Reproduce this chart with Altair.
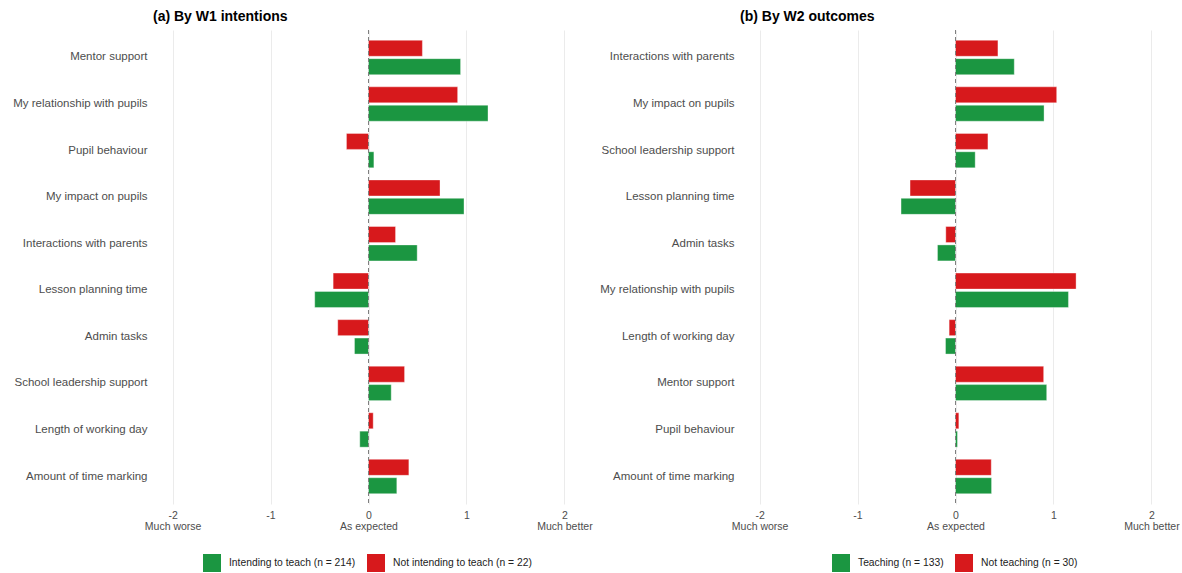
import altair as alt
import pandas as pd

# Panel (a): change relative to expectations, by W1 intentions
left_items = [
    "Mentor support", "My relationship with pupils", "Pupil behaviour",
    "My impact on pupils", "Interactions with parents", "Lesson planning time",
    "Admin tasks", "School leadership support", "Length of working day",
    "Amount of time marking",
]
left_intending = [0.94, 1.22, 0.055, 0.975, 0.497, -0.549, -0.143, 0.232, -0.089, 0.289]
left_not_intending = [0.55, 0.91, -0.225, 0.73, 0.276, -0.361, -0.314, 0.368, 0.048, 0.412]
left_groups = ["Intending to teach (n = 214)", "Not intending to teach (n = 22)"]

# Panel (b): change relative to expectations, by W2 outcomes
right_items = [
    "Interactions with parents", "My impact on pupils", "School leadership support",
    "Lesson planning time", "Admin tasks", "My relationship with pupils",
    "Length of working day", "Mentor support", "Pupil behaviour",
    "Amount of time marking",
]
right_teaching = [0.60, 0.904, 0.201, -0.556, -0.184, 1.153, -0.102, 0.931, 0.02, 0.368]
right_not_teaching = [0.433, 1.033, 0.331, -0.464, -0.099, 1.231, -0.065, 0.90, 0.034, 0.365]
right_groups = ["Teaching (n = 133)", "Not teaching (n = 30)"]

tick_values = [-2, -1, 0, 1, 2]
tick_labels = {
    -2: ["-2", "Much worse"],
    -1: ["-1"],
    0: ["0", "As expected"],
    1: ["1"],
    2: ["2", "Much better"],
}

GREEN = "#1b9641"
RED = "#d7191c"
TEXT = "#4d4d4d"
FONT = "Liberation Sans"

PLOT_H = 474
BAR_H = 16.0      # thickness of each bar, px
BAR_SHIFT = 9.2   # distance of each bar's centre from its row centre, px


def js_list(lines):
    return "[" + ", ".join(f"'{s}'" for s in lines) + "]"


label_expr = " : ".join(
    f"datum.value == {v} ? {js_list(lines)}" for v, lines in tick_labels.items()
) + " : datum.label"


def panel(title, items, groups, first_vals, second_vals, legend_x):
    rows = []
    for item, a, b in zip(items, first_vals, second_vals):
        rows.append({"item": item, "group": groups[0], "value": a})
        rows.append({"item": item, "group": groups[1], "value": b})
    df = pd.DataFrame(rows)

    x_enc = alt.X(
        "value:Q",
        scale=alt.Scale(domain=[-2.2, 2.2], nice=False, zero=False),
        axis=alt.Axis(
            values=tick_values, title=None, domain=False, ticks=False,
            grid=True, gridColor="#ebebeb", gridWidth=1,
            labelColor=TEXT, labelFontSize=10.5, labelPadding=6,
            labelLineHeight=11, labelExpr=label_expr, labelFont=FONT,
        ),
    )
    y_enc = alt.Y(
        "item:N", sort=items,
        scale=alt.Scale(paddingInner=0.26, paddingOuter=0.22),
        axis=alt.Axis(
            title=None, domain=False, ticks=False, grid=False,
            labelColor=TEXT, labelFontSize=11.5, labelPadding=6,
            labelFont=FONT, minExtent=140, maxExtent=140, labelLimit=200,
        ),
    )
    color_enc = alt.Color(
        "group:N",
        scale=alt.Scale(domain=groups, range=[GREEN, RED]),
        legend=alt.Legend(
            title=None, orient="none", legendX=legend_x, legendY=524,
            direction="horizontal", symbolType="square", symbolSize=324,
            symbolStrokeWidth=0, symbolOpacity=1, labelFontSize=10.3,
            labelColor="#222222", labelOffset=8, columnPadding=11,
            labelFont=FONT, labelLimit=300,
        ),
    )

    base = alt.Chart(df).encode(x=x_enc, y=y_enc, color=color_enc)
    bar_style = dict(height=BAR_H, stroke="white", strokeWidth=0.6, strokeOpacity=0.6)

    # second group (not intending / not teaching) drawn above the first
    upper = base.transform_filter(alt.datum.group == groups[1]).mark_bar(
        yOffset=-BAR_SHIFT, **bar_style)
    lower = base.transform_filter(alt.datum.group == groups[0]).mark_bar(
        yOffset=BAR_SHIFT, **bar_style)

    zero = alt.Chart(pd.DataFrame({"value": [0]})).mark_rule(
        color="#7f7f7f", strokeDash=[4, 3], strokeWidth=1
    ).encode(x=alt.X("value:Q"))

    return alt.layer(upper, lower, zero).properties(
        width=431, height=PLOT_H,
        title=alt.TitleParams(title, anchor="start", frame="group", fontSize=14,
                              fontWeight="bold", color="#000000", offset=6, font=FONT),
    )


left = panel("(a) By W1 intentions", left_items, left_groups,
             left_intending, left_not_intending, legend_x=50)
right = panel("(b) By W2 outcomes", right_items, right_groups,
              right_teaching, right_not_teaching, legend_x=92)

chart = alt.hconcat(left, right, spacing=156, bounds="flush").resolve_scale(
    color="independent"
).properties(
    padding={"left": 12, "top": 9, "right": 0, "bottom": 0}
).configure(
    font=FONT, view=alt.ViewConfig(stroke=None)
)

chart.save("out.html", embed_options={"renderer": "svg", "actions": False})
